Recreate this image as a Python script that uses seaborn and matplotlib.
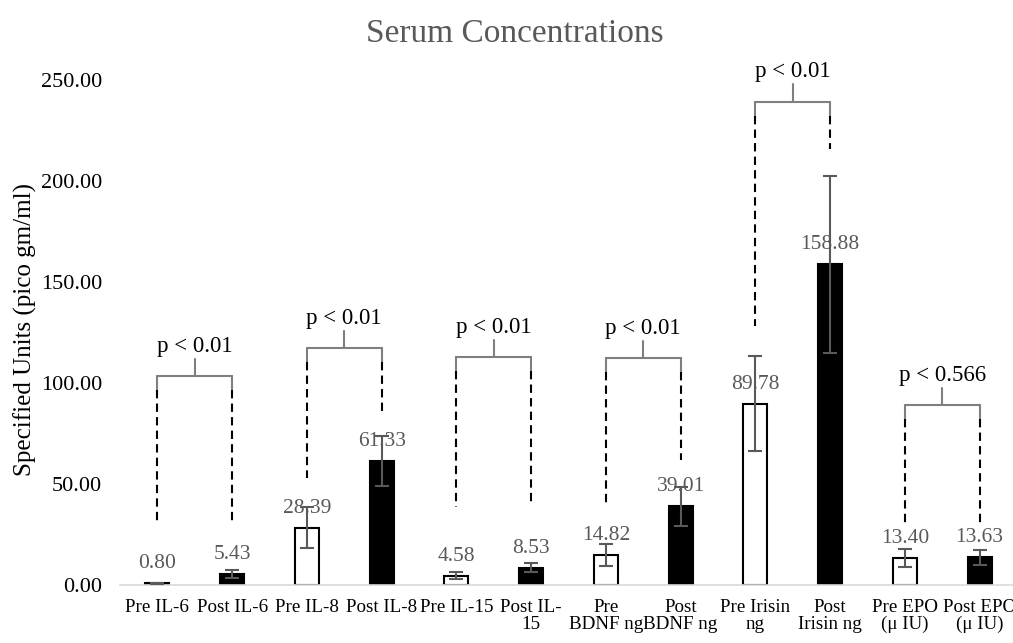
import numpy as np
import pandas as pd
import matplotlib
matplotlib.use("Agg")
import matplotlib.pyplot as plt
import seaborn as sns

# bar data
labels = ["Pre IL-6", "Post IL-6", "Pre IL-8", "Post IL-8", "Pre IL-15", "Post IL-\n15",
          "Pre\nBDNF ng", "Post\nBDNF ng", "Pre Irisin\nng", "Post\nIrisin ng",
          "Pre EPO\n(\u03bc IU)", "Post EPO\n(\u03bc IU)"]
values = [0.80, 5.43, 28.39, 61.33, 4.58, 8.53, 14.82, 39.01, 89.78, 158.88, 13.40, 13.63]
errors = [0.3, 2.0, 10.0, 12.4, 1.8, 2.2, 5.5, 9.6, 23.5, 43.8, 4.5, 3.7]
phase = ["Pre", "Post"] * 6

# significance brackets: (left bar, bracket height, left dash end, right dash end, text)
pair_left = [0, 2, 4, 6, 8, 10]
bracket_y = [103.5, 117.2, 112.7, 112.4, 239.3, 89.1]
dash_end_left = [30.8, 53.0, 38.8, 39.6, 128.2, 30.4]
dash_end_right = [30.8, 85.1, 40.1, 61.9, 215.8, 30.4]
p_text = ["p < 0.01", "p < 0.01", "p < 0.01", "p < 0.01", "p < 0.01", "p < 0.566"]

sns.set_style("white")
plt.rcParams["font.family"] = ["Liberation Serif", "DejaVu Serif"]

df = pd.DataFrame({"label": labels, "value": values, "phase": phase})

fig = plt.figure(figsize=(10.13, 6.43), dpi=100)
ax = fig.add_axes([120 / 1013, 1 - 585 / 643, 897 / 1013, 505 / 643])

sns.barplot(data=df, x="label", y="value", hue="phase", dodge=False,
            palette={"Pre": "white", "Post": "black"}, edgecolor="black",
            linewidth=1.5, width=0.32, legend=False, ax=ax)
x = np.arange(len(labels))
ax.errorbar(x, values, yerr=errors, fmt="none", ecolor="#595959",
            elinewidth=1.5, capsize=5, capthick=1.5, zorder=3)

for xi, v in zip(x, values):
    ax.annotate(f"{v:.2f}", (xi, v), xytext=(0, 15), textcoords="offset pixels",
                ha="center", va="baseline", fontsize=15.5, color="#595959")

tick = 8.5
solid = 7
for i, yb, dl, dr, t in zip(pair_left, bracket_y, dash_end_left, dash_end_right, p_text):
    xl, xr = i, i + 1
    ax.plot([xl, xr], [yb, yb], color="#7f7f7f", lw=1.5, clip_on=False)
    mid = (xl + xr) / 2
    ax.plot([mid, mid], [yb, yb + tick], color="#7f7f7f", lw=1.5, clip_on=False)
    for xe, de in ((xl, dl), (xr, dr)):
        ax.plot([xe, xe], [yb, yb - solid], color="#7f7f7f", lw=1.5, clip_on=False)
        ax.plot([xe, xe], [yb - solid, de], color="black", lw=1.5,
                linestyle=(0, (4, 2.5)), clip_on=False)
    ax.annotate(t, (mid, yb + tick), xytext=(0, 7), textcoords="offset pixels",
                ha="center", va="baseline", fontsize=16.5, color="black",
                annotation_clip=False)

ax.set_ylim(0, 250)
ax.set_xlim(-0.5, len(labels) - 0.5)
ax.set_yticks(np.arange(0, 251, 50))
ax.set_yticklabels([f"{t:.2f}" for t in np.arange(0, 251, 50)])
ax.tick_params(axis="y", length=0, pad=13, labelsize=16, labelcolor="black")
ax.tick_params(axis="x", length=0, pad=10, labelsize=13.7, labelcolor="black")
for lab in ax.get_xticklabels():
    lab.set_linespacing(1.0)
ax.set_xlabel("")
ax.set_ylabel("Specified Units (pico gm/ml)", fontsize=18, color="black")
ax.yaxis.set_label_coords(-0.093, 0.505)
for s in ["top", "right", "left"]:
    ax.spines[s].set_visible(False)
ax.spines["bottom"].set_color("#d9d9d9")
ax.spines["bottom"].set_linewidth(1.2)

fig.text(515 / 1013, 1 - 42 / 643, "Serum Concentrations", ha="center",
         va="baseline", fontsize=24, color="#595959")

fig.savefig("out.png", dpi=100)
